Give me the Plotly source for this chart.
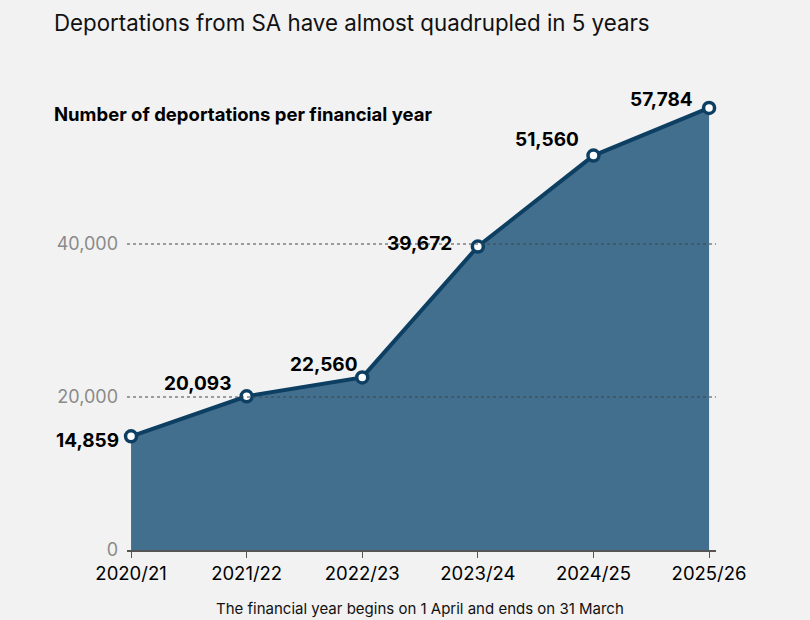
import plotly.graph_objects as go

YEARS = ["2020/21", "2021/22", "2022/23", "2023/24", "2024/25", "2025/26"]
DEPORTATIONS = [14859, 20093, 22560, 39672, 51560, 57784]
Y_TICKS = [0, 20000, 40000]
Y_TICK_TEXT = ["0", "20,000", "40,000"]

# label offsets (pixels) relative to each point: (xshift, yshift)
LABEL_SHIFT = [(-10, -4), (-14, 13), (-3, 13), (-24, 3), (-12, 16), (-14, 8)]

BG = "#f2f2f2"
FILL = "#436f8e"
LINE = "#0d3f63"
FONT = "Inter"

x_idx = list(range(len(YEARS)))

fig = go.Figure()

fig.add_trace(
    go.Scatter(
        x=x_idx,
        y=DEPORTATIONS,
        mode="lines+markers",
        fill="tozeroy",
        fillcolor=FILL,
        line=dict(color=LINE, width=4),
        marker=dict(size=11, color="white", line=dict(color=LINE, width=3.5)),
        cliponaxis=False,
        hoverinfo="skip",
        showlegend=False,
    )
)

for xi, v, (dx, dy) in zip(x_idx, DEPORTATIONS, LABEL_SHIFT):
    fig.add_annotation(
        x=xi, y=v, text=f"<b>{v:,}</b>",
        xanchor="right", yanchor="middle",
        xshift=dx, yshift=dy, showarrow=False,
        font=dict(family=FONT, size=19, color="black"),
    )

# dashed gridlines drawn over the area
for t in Y_TICKS[1:]:
    fig.add_shape(
        type="line", xref="paper", yref="y",
        x0=0, x1=1, y0=t, y1=t,
        line=dict(color="#444444", width=1, dash="3px,3px"),
        layer="above",
    )

fig.update_layout(
    width=810,
    height=620,
    paper_bgcolor=BG,
    plot_bgcolor=BG,
    margin=dict(l=127, r=94, t=91, b=70),
    font=dict(family=FONT),
    xaxis=dict(
        range=[-0.035, 5.06],
        tickvals=x_idx,
        ticktext=YEARS,
        showgrid=False,
        zeroline=False,
        showline=True,
        linecolor="#555555",
        linewidth=1.5,
        ticks="outside",
        ticklen=6,
        tickcolor="#555555",
        tickfont=dict(family=FONT, size=18.5, color="black"),
        fixedrange=True,
    ),
    yaxis=dict(
        range=[0, 60000],
        tickvals=Y_TICKS,
        ticktext=Y_TICK_TEXT,
        showgrid=False,
        zeroline=False,
        showline=False,
        tickfont=dict(family=FONT, size=18, color="#8a8a8a"),
        ticklabelstandoff=8,
        fixedrange=True,
    ),
)

fig.add_annotation(
    text="Deportations from SA have almost quadrupled in 5 years",
    xref="paper", yref="paper", x=-0.127, y=1.150,
    xanchor="left", yanchor="middle", showarrow=False,
    font=dict(family=FONT, size=22.3, color="#111111"),
)
fig.add_annotation(
    text="<b>Number of deportations per financial year</b>",
    xref="paper", yref="paper", x=-0.127, y=0.95,
    xanchor="left", yanchor="middle", showarrow=False,
    font=dict(family=FONT, size=18.5, color="black"),
)
fig.add_annotation(
    text="The financial year begins on 1 April and ends on 31 March",
    xref="paper", yref="paper", x=0.498, y=-0.1285,
    xanchor="center", yanchor="middle", showarrow=False,
    font=dict(family=FONT, size=15, color="#111111"),
)

fig.write_html(
    "out.html",
    config={"displayModeBar": False},
    post_script="document.body.style.margin='0';document.body.style.background='#f2f2f2';",
)
